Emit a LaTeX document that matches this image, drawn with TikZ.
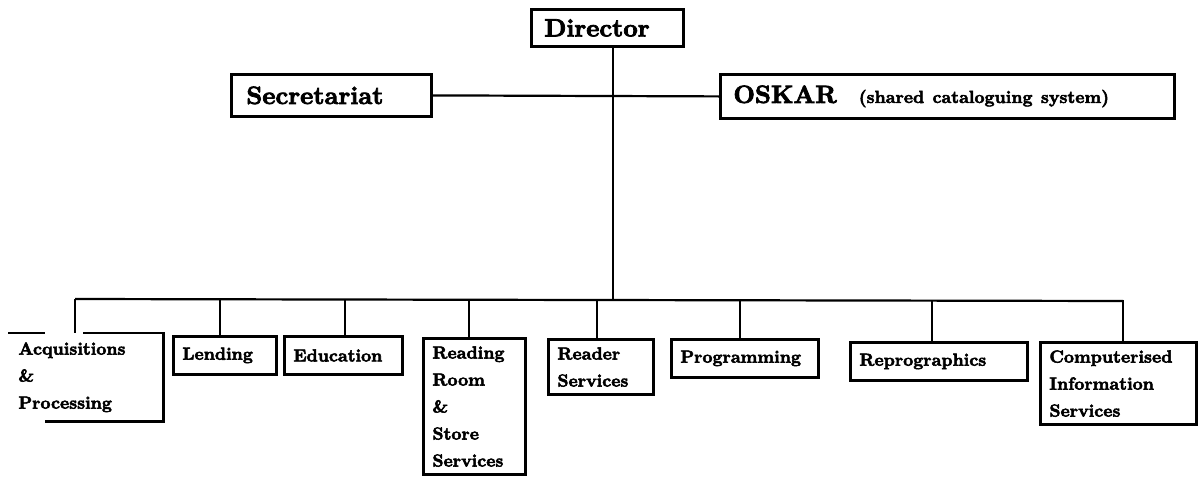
\documentclass[tikz,border=0pt]{standalone}
\usepackage{fontspec}
\setmainfont{lmroman10-regular.otf}[BoldFont=lmroman10-bold.otf, BoldFeatures={FakeBold=3}]
\usetikzlibrary{positioning}
\usetikzlibrary{calc}

\tikzset{
	topbox/.style={draw, line width=2.8pt, anchor=north west, align=left, inner xsep=12pt, inner ysep=4pt, font=\bfseries\fontsize{25}{28}\selectfont},
	unitbox/.style={draw, line width=2.8pt, anchor=north west, align=left, inner xsep=9pt, inner ysep=8pt, minimum height=38pt, text width=#1, font=\bfseries\fontsize{17.5}{27}\selectfont},
	link/.style={line width=2.2pt}
}

\begin{document}
\begin{tikzpicture}[x=1pt,y=-1pt]
		\useasboundingbox (0,0) rectangle (1200,477);

		% Top of the chart
		\node[topbox, minimum width=152pt, minimum height=37pt, text width=126pt] (director) at (530,8) {Director};
		\node[topbox, minimum width=200pt, minimum height=42pt, text width=170pt] (secretariat) at (230,73) {Secretariat};
		\node[topbox, minimum width=454pt, minimum height=44pt, text width=428pt] (oskar) at (719,73) {OSKAR\hspace{22pt}{\fontsize{17.5}{20}\selectfont(shared cataloguing system)}};

		% Departments
		\node[unitbox=135pt, draw=none] (acq) at (8,333) {Acquisitions\\\&\\Processing};
		\node[unitbox=85pt] (lending) at (172,335) {Lending};
		\node[unitbox=100pt] (education) at (283,335) {Education};
		\node[unitbox=84pt] (reading) at (422,337) {Reading\\Room\\\&\\Store\\Services};
		\node[unitbox=87pt] (reader) at (547,338) {Reader\\Services};
		\node[unitbox=129pt] (programming) at (670,338) {Programming};
		\node[unitbox=159pt] (repro) at (849,341) {Reprographics};
		\node[unitbox=138pt] (comp) at (1039,341) {Computerised\\Information\\Services};

		% Broken frame of the first box
		\draw[line width=2.8pt] (acq.north west) -- ++(37,0);
		\draw[line width=2.8pt] ([xshift=75pt]acq.north west) -- (acq.north east) -- (acq.south east) -- ([xshift=37pt]acq.south west);

		% Define the coordinates of the lines
		\coordinate (top) at (613,0 |- director.south);
		\coordinate (busL) at (75,299);
		\coordinate (busR) at (1123,301);
		\coordinate (bus-acq) at (75,299);

		% Draw the lines
		\draw[link] (secretariat.east) -- (oskar.west);
		\draw[link] (top) -- (top |- busL);
		\draw[link] (busL) -- (busR);
		\draw[link] (bus-acq) -- (bus-acq |- acq.north);
		\foreach \unit/\xpos in {lending/220, education/345, reading/469, reader/597, programming/740, repro/932, comp/1123}
		{
			\coordinate (bus-\unit) at (\xpos,300);
			\draw[link] (bus-\unit) -- (bus-\unit |- \unit.north);
		}
	\end{tikzpicture}
\end{document}
